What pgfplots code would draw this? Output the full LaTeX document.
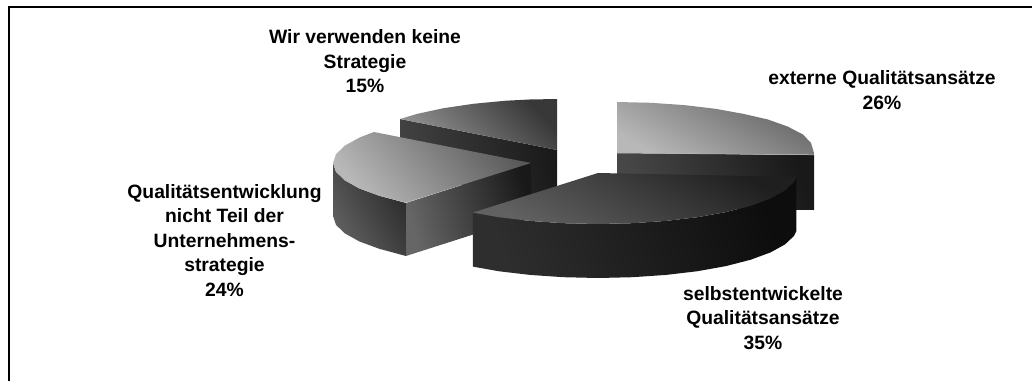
\documentclass[border=0pt]{standalone}
\usepackage{fontspec}
\setmainfont{Liberation Sans}
\usepackage{pgfplots}
\pgfplotsset{compat=1.18}
\tikzset{lab/.style={align=center, text=black,
    font=\fontsize{19.3}{24.5}\selectfont\bfseries}}

% Outline of each piece of the exploded 3D pie, in drawing units (y grows downward).
% Slice shares: externe 26, selbstentwickelte 35, nicht Teil 24, keine Strategie 15.
\begin{document}
\begin{tikzpicture}
\begin{axis}[
  scale only axis, width=1032pt, height=381pt,
  xmin=0, xmax=1032, ymin=0, ymax=381, y dir=reverse,
  axis lines=none, clip=true,
  every axis plot/.append style={no markers, sharp plot, draw=none},
]
% full drawing area, so the white margin is kept
\path (axis cs:0,0) rectangle (axis cs:1032,381);

% frame, open on the right and at the bottom
\addplot[draw=black, line width=2pt, line cap=rect] coordinates {(9,380)(9,7)(1031,7)};

% keine Strategie 15%: inner wall, then top
\addplot[bottom color=black!74, top color=black!90, shading angle=-80] coordinates
  {(400,119)(557,150)(557,204)(400,173)} -- cycle;
\addplot[bottom color=black!42, top color=black!78, shading angle=-45] coordinates
  {(557,150)(400,119)(417,113.9)(443.4,108.2)(473.3,103.8)(505.8,100.7)(529.4,99.5)(557,99)} -- cycle;

% externe Qualitaetsansaetze 26%: wall, then top
\addplot[bottom color=black!72, top color=black!90, shading angle=-70] coordinates
  {(617,153)(814,155)(814,210)(617,208)} -- cycle;
\addplot[bottom color=black!28, top color=black!60, shading angle=-30] coordinates
  {(617,153)(617,102)(651.2,102.8)(684.4,105.1)(715.5,108.8)(743.6,113.9)(767.9,119.5)
   (787.6,126.5)(803,134.5)(811,143)(814,153)(813.9,154.8)} -- cycle;
\addplot[draw=black!30, line width=0.5pt] coordinates {(617,153)(813.9,154.8)};

% nicht Teil der Unternehmensstrategie 24%: outer wall, inner wall, top
\addplot[bottom color=black!62, top color=black!84, shading angle=-60] coordinates
  {(406,203)(379.3,195.8)(359.5,188.5)(344.9,180.4)(336,171.9)(333,163)
   (333,216)(336,224.9)(344.9,233.4)(359.5,241.5)(379.3,248.8)(406,256)} -- cycle;
\addplot[bottom color=black!60, top color=black!90, shading angle=-75] coordinates
  {(531,163)(406,203)(406,256)(531,216)} -- cycle;
\addplot[bottom color=black!28, top color=black!65, shading angle=-50] coordinates
  {(531,163)(406,202.6)(379.3,195.8)(359.5,188.5)(344.9,180.4)(336,171.9)(333,163)
   (336,154.1)(344.9,145.6)(359.5,137.5)(373.9,132)} -- cycle;

% selbstentwickelte Qualitaetsansaetze 35%: wall, then top
\addplot[bottom color=black!82, top color=black!95, shading angle=-70] coordinates
  {(472.8,212.6)(498.5,217.2)(529.9,220.9)(563.5,223.2)(598,224)(632.5,223.2)(666.1,220.9)
   (697.5,217.2)(725.9,212.1)(750.4,205.8)(770.3,198.5)(785,190.4)(794,181.9)(796.4,177)
   (796.4,231)(794,235.9)(785,244.4)(770.3,252.5)(750.4,259.8)(725.9,266.1)(697.5,271.2)
   (666.1,274.9)(632.5,277.2)(598,278)(563.5,277.2)(529.9,274.9)(498.5,271.2)(472.8,266.6)} -- cycle;
\addplot[bottom color=black!62, top color=black!88, shading angle=-30] coordinates
  {(598,173)(472.8,212.6)(498.5,217.2)(529.9,220.9)(563.5,223.2)(598,224)(632.5,223.2)(666.1,220.9)
   (697.5,217.2)(725.9,212.1)(750.4,205.8)(770.3,198.5)(785,190.4)(794,181.9)(796.4,177)} -- cycle;

\node[lab] at (axis cs:365,61.5) {Wir verwenden keine\\Strategie\\15\%};
\node[lab] at (axis cs:224.5,240.5) {Qualitätsentwicklung\\nicht Teil der\\Unternehmens-\\strategie\\24\%};
\node[lab] at (axis cs:882,90) {externe Qualitätsansätze\\26\%};
\node[lab] at (axis cs:763,318) {selbstentwickelte\\Qualitätsansätze\\35\%};
\end{axis}
\end{tikzpicture}
\end{document}
